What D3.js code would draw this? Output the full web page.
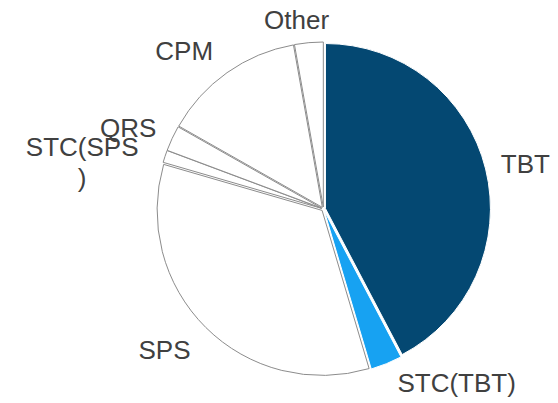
<!DOCTYPE html>
<html>
<head>
<meta charset="utf-8">
<script src="https://cdn.jsdelivr.net/npm/d3@7/dist/d3.min.js"></script>
<style>
  html, body { margin: 0; padding: 0; background: #fff; }
  svg text { font-family: "Liberation Sans", Arial, sans-serif; }
</style>
</head>
<body>
<div id="chart"></div>
<script>
// share of measures, clockwise from 12 o'clock
var categories = ["TBT", "STC(TBT)", "SPS", "STC(SPS)", "QRS", "CPM", "Other"];
var shares     = [42.3, 3.1, 34.1, 1.2, 2.5, 14.0, 2.8];
var fills      = ["#044872", "#17a2f2", "#ffffff", "#ffffff", "#ffffff", "#ffffff", "#ffffff"];

// label text split into lines where the label was wrapped
var labelLines = {"STC(SPS)": ["STC(SPS", ")"]};
// moves applied to the labels after placing them on the slice bisector
var labelShift = {
    "TBT": [-2, 5], "STC(TBT)": [54, -21], "SPS": [-11, -8],
    "STC(SPS)": [-42, 19], "QRS": [-5, 7], "CPM": [-18, 13.5], "Other": [-8.5, 19.5]
};

var width = 558, height = 403;
var cx = 323.5, cy = 209, radius = 165;
var explode = 2;
var fontSize = 26, lineHeight = 31;

var svg = d3.select("#chart").append("svg")
    .attr("width", width)
    .attr("height", height);

svg.append("rect")
    .attr("width", width)
    .attr("height", height)
    .attr("fill", "#fff");

var pie = d3.pie()
    .sort(null)
    .value(function(d) { return d; });

var arcs = pie(shares);

var arc = d3.arc()
    .innerRadius(0)
    .outerRadius(radius);

var g = svg.append("g")
    .attr("transform", "translate(" + cx + "," + cy + ")");

g.selectAll("path.slice")
    .data(arcs)
    .enter()
    .append("path")
    .attr("class", "slice")
    .attr("d", arc)
    .attr("transform", function(d) {
        var a = (d.startAngle + d.endAngle) / 2;
        return "translate(" + (Math.sin(a) * explode) + "," + (-Math.cos(a) * explode) + ")";
    })
    .style("fill", function(d, i) { return fills[i]; })
    .style("stroke", function(d, i) { return fills[i] === "#ffffff" ? "#8c8c8c" : "#ffffff"; })
    .style("stroke-width", 1)
    .style("stroke-linejoin", "round");

// labels
var labelR = 210;
var labels = g.selectAll("text.label")
    .data(arcs)
    .enter()
    .append("text")
    .attr("class", "label")
    .attr("text-anchor", "middle")
    .style("font-size", fontSize + "px")
    .style("fill", "#404040");

labels.each(function(d, i) {
    var name = categories[i];
    var a = (d.startAngle + d.endAngle) / 2;
    var shift = labelShift[name] || [0, 0];
    var x = Math.sin(a) * labelR + shift[0];
    var y = -Math.cos(a) * labelR + shift[1];
    var lines = labelLines[name] || [name];
    var firstBase = y + fontSize * 0.36 - (lines.length - 1) * lineHeight / 2;
    var t = d3.select(this);
    lines.forEach(function(line, k) {
        t.append("tspan")
            .attr("x", x)
            .attr("y", firstBase + k * lineHeight)
            .text(line);
    });
});
</script>
</body>
</html>
